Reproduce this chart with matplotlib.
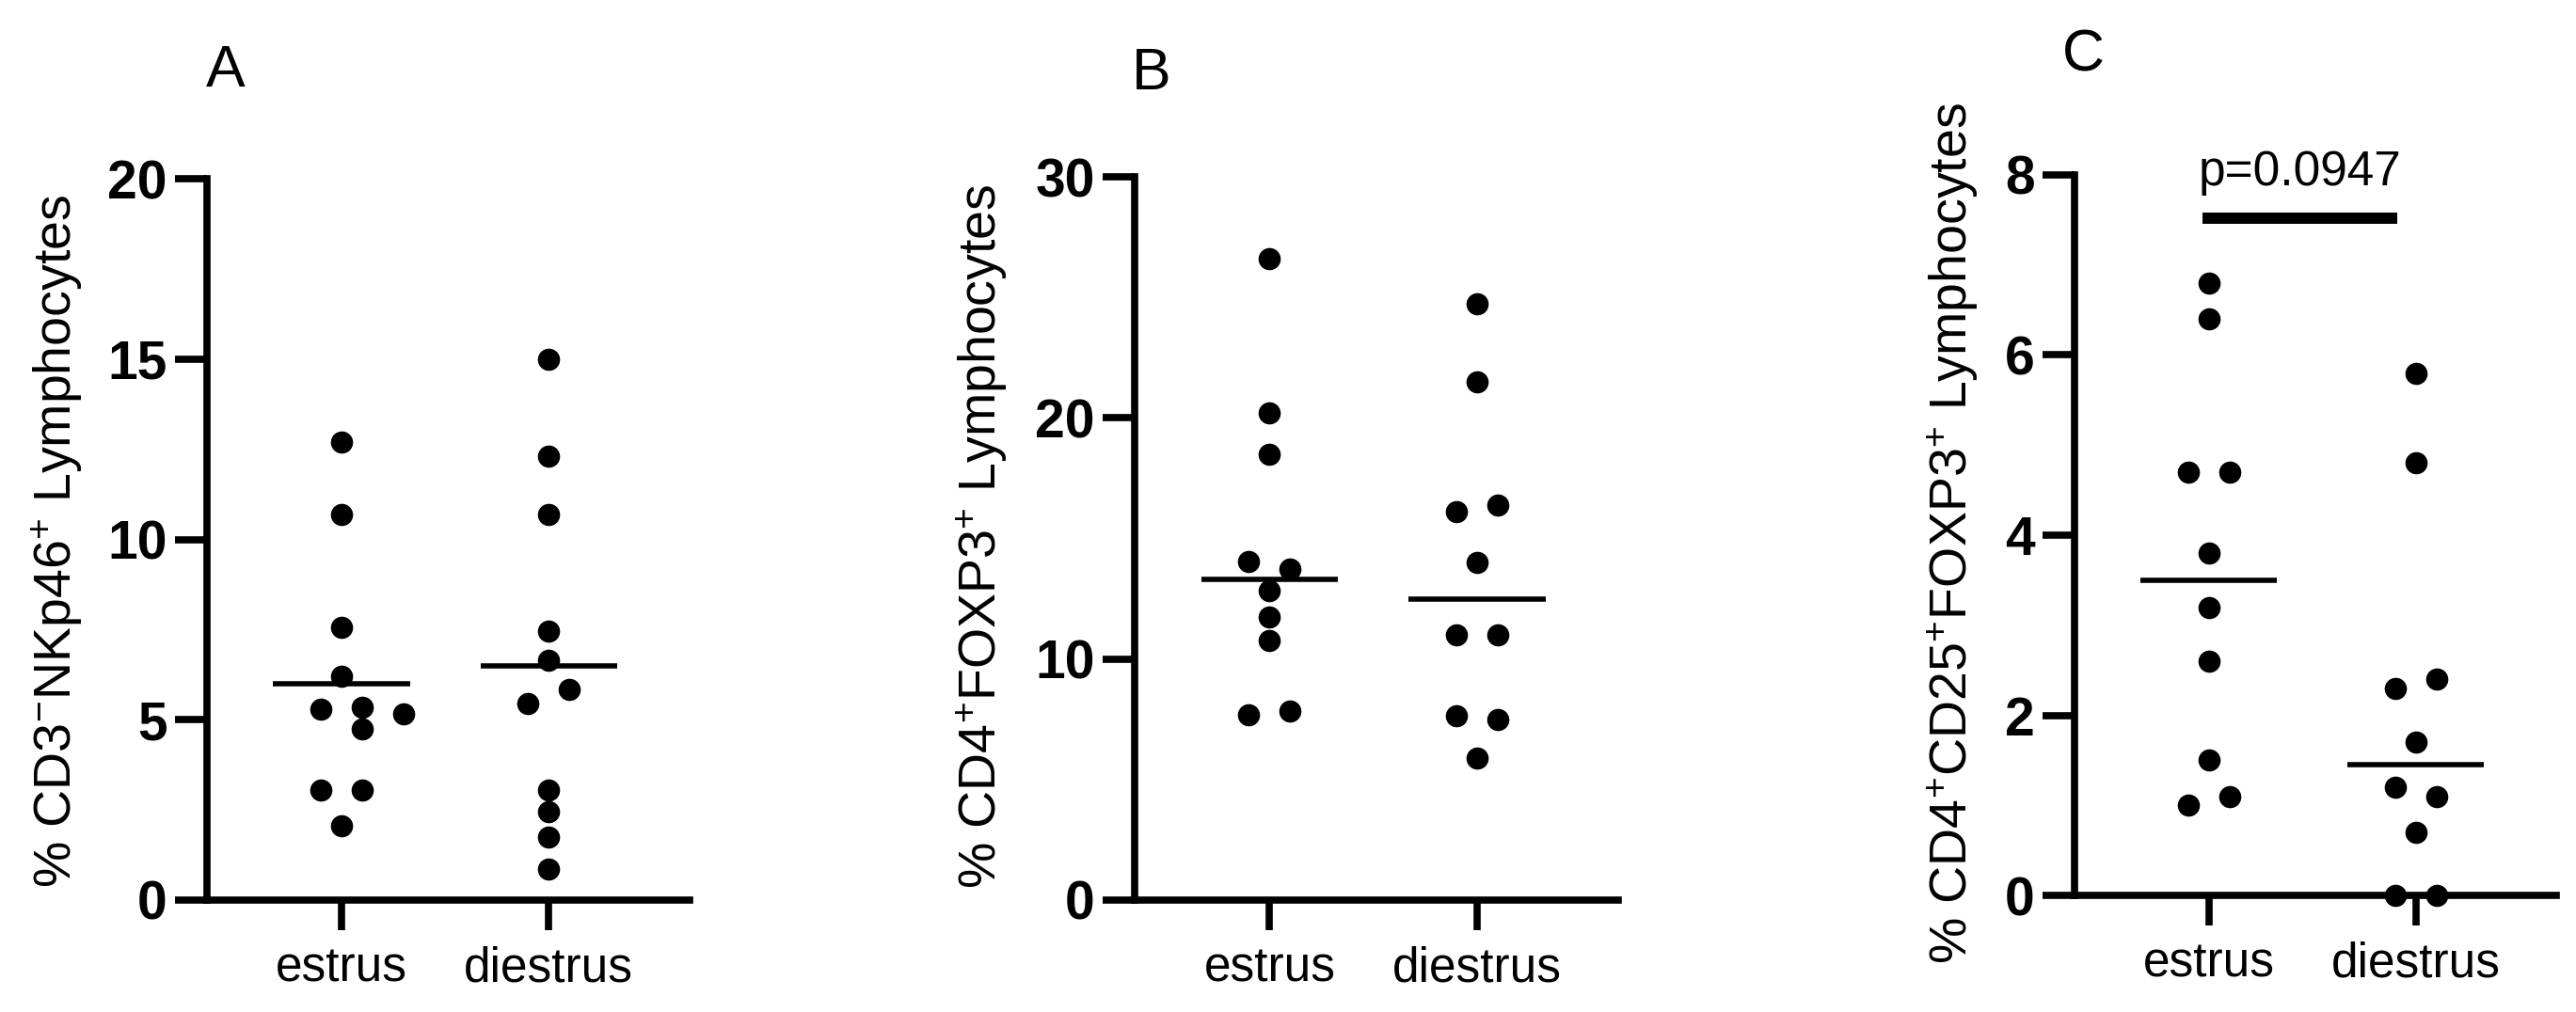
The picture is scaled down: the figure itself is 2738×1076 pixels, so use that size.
import numpy as np
import matplotlib
matplotlib.use('Agg')
import matplotlib.pyplot as plt

plt.rcParams['font.family'] = ['Liberation Sans', 'DejaVu Sans']
plt.rcParams['mathtext.fontset'] = 'custom'
plt.rcParams['mathtext.rm'] = 'Liberation Sans'
plt.rcParams['mathtext.default'] = 'regular'

groups = ['estrus', 'diestrus']

# panel A - CD3-NKp46+ (line = mean)
a_estrus = [12.7, 10.7, 7.55, 6.2, 5.3, 5.35, 5.15, 4.75, 3.05, 3.05, 2.05]
a_diestrus = [15.0, 12.3, 10.7, 7.45, 6.65, 5.45, 5.85, 3.05, 2.45, 1.75, 0.85]
# panel B - CD4+FOXP3+ (line = median)
b_estrus = [26.6, 20.2, 18.5, 14.05, 13.75, 12.85, 11.75, 10.75, 7.7, 7.85]
b_diestrus = [24.75, 21.5, 16.1, 16.4, 14.0, 11.0, 11.0, 7.65, 7.5, 5.9]
# panel C - CD4+CD25+FOXP3+ (line = median)
c_estrus = [6.8, 6.4, 4.7, 4.7, 3.8, 3.2, 2.6, 1.5, 1.0, 1.1]
c_diestrus = [5.8, 4.8, 2.4, 2.3, 1.7, 1.2, 1.1, 0.7, 0.0, 0.0]

# horizontal spread of the dots (scatter dot plot)
a_est_dx = [0, 0, 0, 0, -0.1, 0.1, 0.3, 0.1, -0.1, 0.1, 0]
a_die_dx = [0, 0, 0, 0, 0, -0.1, 0.1, 0, 0, 0, 0]
b_est_dx = [0, 0, 0, -0.1, 0.1, 0, 0, 0, -0.1, 0.1]
b_die_dx = [0, 0, -0.1, 0.1, 0, -0.1, 0.1, -0.1, 0.1, 0]
c_est_dx = [0, 0, -0.1, 0.1, 0, 0, 0, 0, -0.1, 0.1]
c_die_dx = [0, 0, 0.1, -0.1, 0, -0.1, 0.1, 0, -0.1, 0.1]

p_text = 'p=0.0947'

W, H = 2738, 1076
fig = plt.figure(figsize=(W / 100, H / 100), dpi=100)


def px_axes(left, right, top, bottom):
    return fig.add_axes([left / W, 1 - bottom / H, (right - left) / W, (bottom - top) / H])


panels = [
    dict(box=(220, 733, 190, 957), data=(a_estrus, a_diestrus), dx=(a_est_dx, a_die_dx),
         stat=np.mean, ylim=20, yticks=[0, 5, 10, 15, 20],
         ylabel=r'% CD3$^{-}$NKp46$^{+}$ Lymphocytes', lab=(61, 575),
         letter='A', let_xy=(240, 92)),
    dict(box=(1206, 1720, 188, 957), data=(b_estrus, b_diestrus), dx=(b_est_dx, b_die_dx),
         stat=np.median, ylim=30, yticks=[0, 10, 20, 30],
         ylabel=r'% CD4$^{+}$FOXP3$^{+}$ Lymphocytes', lab=(1044, 570),
         letter='B', let_xy=(1224, 95)),
    dict(box=(2205, 2717, 186, 952), data=(c_estrus, c_diestrus), dx=(c_est_dx, c_die_dx),
         stat=np.median, ylim=8, yticks=[0, 2, 4, 6, 8],
         ylabel=r'% CD4$^{+}$CD25$^{+}$FOXP3$^{+}$ Lymphocytes', lab=(2076, 567),
         letter='C', let_xy=(2214, 76)),
]

axes = []
for p in panels:
    ax = px_axes(*p['box'])
    axes.append(ax)
    for i, (vals, dx) in enumerate(zip(p['data'], p['dx'])):
        x = i + np.array(dx)
        ax.plot(x, vals, 'o', color='black', markersize=17, markeredgewidth=0,
                clip_on=False, zorder=3)
        m = p['stat'](vals)
        ax.plot([i - 0.33, i + 0.33], [m, m], color='black', lw=4, zorder=2,
                solid_capstyle='butt')
    ax.set_xlim(-0.65, 1.68)
    ax.set_ylim(0, p['ylim'])
    ax.set_yticks(p['yticks'])
    ax.set_xticks([0, 1])
    ax.set_xticklabels(groups)
    for s in ['top', 'right']:
        ax.spines[s].set_visible(False)
    for s in ['left', 'bottom']:
        ax.spines[s].set_linewidth(5.5)
        ax.spines[s].set_capstyle('projecting')
    ax.tick_params(axis='y', length=24.5, width=5.5, pad=6, labelsize=41)
    ax.tick_params(axis='x', length=23, width=5.5, pad=12, labelsize=37)
    for t in ax.get_yticklabels():
        t.set_fontweight('bold')
    fig.text(p['lab'][0] / W, 1 - p['lab'][1] / H, p['ylabel'], rotation=90,
             ha='center', va='center', fontsize=40)
    fig.text(p['let_xy'][0] / W, 1 - p['let_xy'][1] / H, p['letter'],
             ha='center', va='baseline', fontsize=45)

# significance bar in panel C
axc = axes[2]
axc.plot([-0.03, 0.91], [7.52, 7.52], color='black', lw=8.6, clip_on=False,
         solid_capstyle='butt')
axc.text(0.44, 7.885, p_text, ha='center', va='baseline', fontsize=37, clip_on=False)

fig.savefig('out.png', dpi=100)
